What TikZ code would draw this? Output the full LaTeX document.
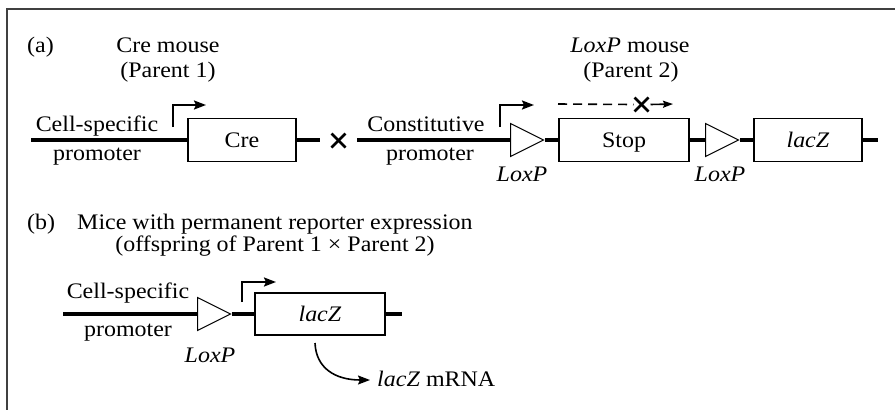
\documentclass[tikz,border=0pt]{standalone}
\usepackage{fontspec}
\setmainfont[FakeStretch=1.08]{Liberation Serif}
\usetikzlibrary{arrows.meta,shapes.geometric,calc}

\tikzset{
  lbl/.style={inner sep=0pt, anchor=base, font=\fontsize{22.2}{25}\selectfont},
  dna/.style={line width=4pt, black},
  gene/.style={draw, line width=1.3pt, fill=white, minimum height=43pt, inner sep=0pt,
               text height=15pt, text depth=1pt,
               font=\fontsize{22.2}{25}\selectfont},
  loxp/.style={draw, line width=1pt, fill=white, isosceles triangle,
               isosceles triangle stretches, minimum width=33pt, minimum height=33pt,
               inner sep=0pt, anchor=lower side},
  promo/.style={line width=2pt, -{Stealth[length=12pt,width=9pt,inset=2pt]}},
  blockx/.style={line width=2.6pt},
  frame/.style={line width=2pt, black!75},
}

\begin{document}
\begin{tikzpicture}[x=1pt, y=-1pt]
\useasboundingbox (0,0) rectangle (895,410);

% frame (top and left edges)
\draw[frame] (6,8.5) -- (895,8.5);
\draw[frame] (6.5,8) -- (6.5,410);

% ---------------- (a) ----------------
\node[lbl, anchor=base west] (la) at (27,52) {(a)};
\node[lbl] (cremouse) at (168,52) {Cre mouse};
\node[lbl] (par1) at (168,77) {(Parent 1)};
\node[lbl] (loxmouse) at (630,52) {\textit{LoxP} mouse};
\node[lbl] (par2) at (631,77) {(Parent 2)};

% Parent 1 construct
\coordinate (a1s) at (31,140);
\coordinate (a1e) at (320,140);
\node[gene, minimum width=108pt] (cre) at (242,140) {Cre};
\draw[dna] (a1s) -- (cre.west);
\draw[dna] (cre.east) -- (a1e);
\node[lbl] (cs1) at (97,131) {Cell-specific};
\node[lbl] (pr1) at (97,160) {promoter};
\coordinate (p1b) at (173,127);
\coordinate (p1t) at (206,105);
\draw[promo] (p1b) |- (p1t);

% cross sign between parents
\coordinate (cx) at (338.5,140.5);
\draw[blockx] ($(cx)+(-7,-7)$) -- ($(cx)+(7,7)$);
\draw[blockx] ($(cx)+(-7,7)$) -- ($(cx)+(7,-7)$);

% Parent 2 construct
\coordinate (a2s) at (357,140);
\coordinate (a2e) at (878,140);
\node[loxp] (lx1) at (510,140) {};
\node[gene, minimum width=130pt] (stop) at (624,140) {Stop};
\node[loxp] (lx2) at (705,140) {};
\node[gene, minimum width=108pt] (lacza) at (808,140) {\textit{lacZ}};
\draw[dna] (a2s) -- (lx1.lower side);
\draw[dna] (lx1.apex) -- (stop.west);
\draw[dna] (stop.east) -- (lx2.lower side);
\draw[dna] (lx2.apex) -- (lacza.west);
\draw[dna] (lacza.east) -- (a2e);
\node[lbl] (cons) at (426,131) {Constitutive};
\node[lbl] (pr2) at (430,160) {promoter};
\node[lbl] (lxl1) at (522,181) {\textit{LoxP}};
\node[lbl] (lxl2) at (720,181) {\textit{LoxP}};
\coordinate (p2b) at (500,127);
\coordinate (p2t) at (534,105);
\draw[promo] (p2b) |- (p2t);

% blocked transcript through the stop cassette
\coordinate (ds) at (558,104);
\coordinate (xb) at (641.5,104.5);
\coordinate (de) at (673,104);
\draw[line width=1.6pt, dash pattern=on 9pt off 6pt] (ds) -- ($(xb)+(-8,0)$);
\draw[blockx] ($(xb)+(-7,-7)$) -- ($(xb)+(7,7)$);
\draw[blockx] ($(xb)+(-7,7)$) -- ($(xb)+(7,-7)$);
\draw[line width=1.6pt, -{Stealth[length=10pt,width=7pt,inset=1.5pt]}] ($(xb)+(9,0)$) -- (de);

% ---------------- (b) ----------------
\node[lbl, anchor=base west] (lb) at (27,229) {(b)};
\node[lbl, anchor=base west] (mice) at (77,229) {Mice with permanent reporter expression};
\node[lbl] (offs) at (275,251) {(offspring of Parent 1 × Parent 2)};

\coordinate (bs) at (63,314);
\coordinate (be) at (402,314);
\node[loxp] (lx3) at (197,314) {};
\node[gene, minimum width=130pt, minimum height=42pt] (laczb) at (320,314) {\textit{lacZ}};
\draw[dna] (bs) -- (lx3.lower side);
\draw[dna] (lx3.apex) -- (laczb.west);
\draw[dna] (laczb.east) -- (be);
\node[lbl] (cs3) at (128,298) {Cell-specific};
\node[lbl] (pr3) at (128,336) {promoter};
\node[lbl] (lxl3) at (210,362) {\textit{LoxP}};
\coordinate (p3b) at (242,302);
\coordinate (p3t) at (276,282);
\draw[promo] (p3b) |- (p3t);

% transcript
\node[lbl, anchor=base west] (mrna) at (377,386) {\textit{lacZ} mRNA};
\coordinate (ts) at (315,343);
\coordinate (te) at (370,380);
\draw[line width=1.6pt, -{Stealth[length=12pt,width=9pt,inset=2pt]}]
  (ts) .. controls (316,368) and (335,380) .. (te);
\end{tikzpicture}
\end{document}
